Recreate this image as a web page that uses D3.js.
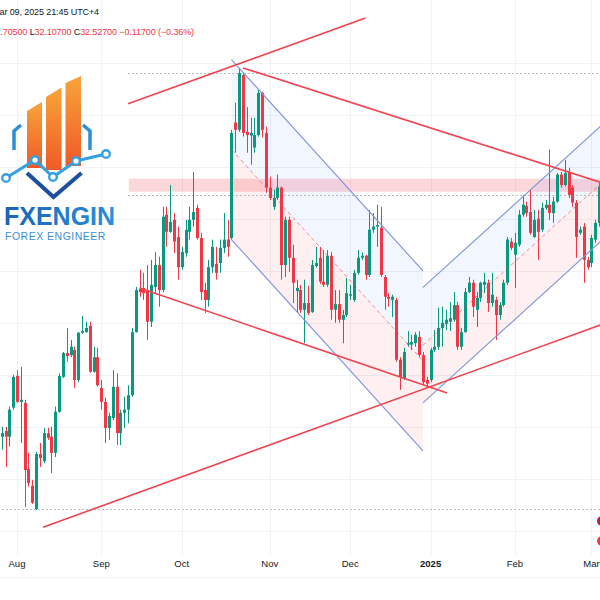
<!DOCTYPE html>
<head>
<meta charset="utf-8">
<style>
body{ margin:0; background:white; }
svg{ display:block; font-family:"Liberation Sans", Arial, sans-serif; }
.grid line{ stroke:#f0f2f6; stroke-width:1; shape-rendering:crispEdges; }
.axis text{ font-size:9.5px; fill:#131722; }
.level{ stroke:#b8bcc6; stroke-width:1; stroke-dasharray:2,2; shape-rendering:crispEdges; }
.hdr{ font-size:9px; letter-spacing:-0.1px; }
</style>
</head>
<body>
<svg width="600" height="600"></svg>
<script src="https://d3js.org/d3.v7.min.js"></script>
<script>

// daily candles, XAG/USD, late Jul 2024 .. 7 Mar 2025 (index = trading day)
var opens = [
  28.62,27.82,27.93,27.82,28.38,28.99,28.49,28.47,27.20,26.88,
  26.43,27.49,27.35,27.89,27.82,27.51,28.30,28.97,29.43,29.39,
  29.49,28.91,29.82,29.83,29.95,29.07,29.35,28.76,28.49,27.99,
  28.18,28.78,27.89,28.28,28.34,28.62,29.83,30.66,30.68,30.64,
  30.03,30.70,31.12,30.64,32.09,31.76,31.99,31.66,31.08,31.35,
  31.76,31.99,32.22,31.64,30.64,30.45,31.08,31.14,31.16,31.45,
  31.61,31.64,33.86,33.72,34.77,33.68,33.61,33.38,33.62,34.43,
  33.66,32.61,32.24,32.41,32.61,31.12,31.99,31.26,30.62,30.64,
  30.26,30.39,30.22,31.10,31.26,30.80,30.74,31.30,30.26,30.37,
  30.07,30.16,30.53,30.45,30.97,31.26,31.30,30.93,31.80,31.86,
  31.84,30.89,30.51,30.45,30.45,29.30,28.95,29.59,29.59,29.62,
  29.74,29.39,28.91,28.91,29.49,29.55,29.91,29.99,30.03,30.07,
  30.35,29.55,29.83,30.60,30.78,30.26,30.49,30.74,30.78,30.39,
  30.45,30.16,30.35,30.78,31.57,31.32,31.51,32.09,32.26,32.14,
  31.66,32.01,31.80,32.22,32.28,32.12,32.34,32.86,32.66,32.91,
  32.61,32.32,31.74,31.86,31.22,31.16,31.61,31.93,32.63,32.644
];
var highs = [
  28.85,28.01,28.01,28.40,29.01,29.10,29.16,28.53,27.51,26.99,
  27.53,27.70,27.99,27.99,28.01,28.40,29.04,29.45,29.91,29.68,
  29.55,29.83,30.14,30.03,30.03,29.55,29.53,28.91,28.57,28.28,
  29.10,29.04,28.34,28.59,28.81,29.91,30.70,31.03,30.97,31.12,
  31.22,31.37,31.28,32.24,32.24,32.66,32.12,31.86,31.47,31.99,
  32.24,32.91,32.28,31.74,30.78,31.22,31.61,31.47,31.61,32.12,
  31.99,33.72,34.24,34.91,34.81,34.16,33.95,33.95,34.49,34.45,
  33.78,32.82,32.57,32.86,32.63,32.05,32.05,31.51,30.84,30.74,
  30.84,30.72,31.22,31.47,31.47,31.41,31.41,31.37,30.64,30.64,
  30.26,30.87,30.74,31.03,31.41,31.36,31.32,32.18,32.12,32.28,
  32.24,30.93,30.58,30.55,30.49,29.35,29.53,29.85,29.78,29.83,
  29.85,29.45,28.97,29.53,29.87,30.30,30.32,30.26,30.41,30.60,
  30.41,29.91,30.68,30.89,30.84,30.60,30.80,30.97,30.84,30.97,
  30.51,30.41,30.84,31.66,31.64,31.74,32.18,32.47,32.34,32.57,
  32.18,32.18,32.32,32.37,33.34,32.43,32.89,32.91,33.14,32.99,
  32.66,32.37,31.86,31.93,31.28,31.70,31.99,32.70,32.76,32.705
];
var lows = [
  27.24,27.57,27.24,27.63,28.34,28.47,27.70,26.47,26.86,26.53,
  26.41,27.24,27.31,27.76,27.12,27.43,28.28,28.95,29.26,29.35,
  28.76,28.87,29.80,29.82,29.05,29.05,28.78,28.34,27.70,27.76,
  28.14,27.66,27.66,27.99,28.08,28.59,29.82,30.51,30.45,29.68,
  29.93,30.58,30.32,30.60,31.47,31.74,31.35,30.84,31.03,31.28,
  31.61,31.86,31.61,30.45,30.20,30.32,30.97,30.84,30.97,31.35,
  31.28,31.61,33.28,33.68,33.59,33.28,33.05,33.28,33.59,33.57,
  32.51,32.37,32.18,32.37,30.84,30.89,30.99,30.39,30.20,30.20,
  29.62,30.16,30.20,31.07,30.76,30.70,30.70,30.07,30.01,30.01,
  29.62,30.12,30.45,30.41,30.93,31.22,30.84,30.89,31.74,31.47,
  30.89,30.26,30.32,30.12,29.26,28.72,28.91,29.55,29.49,29.55,
  29.35,28.81,28.78,28.87,29.45,29.49,29.55,29.87,29.85,30.03,
  29.49,29.49,29.82,30.58,30.12,29.93,30.41,30.58,30.22,30.32,
  29.68,30.07,30.32,30.74,31.41,30.68,31.47,32.05,32.05,31.70,
  31.64,31.22,31.76,32.18,31.99,31.93,32.32,32.61,32.63,32.41,
  32.24,31.26,31.70,30.78,31.03,31.08,31.55,31.86,32.28,32.107
];
var closes = [
  27.95,27.89,27.82,28.34,28.97,28.49,28.53,27.18,26.93,26.55,
  27.49,27.41,27.89,27.80,27.51,28.30,28.99,29.43,29.37,29.55,
  28.91,29.82,29.85,29.91,29.07,29.35,28.81,28.49,27.99,28.22,
  28.78,27.89,28.28,28.34,28.62,29.83,30.64,30.60,30.58,30.03,
  30.74,31.12,30.64,32.05,31.76,31.95,31.57,31.08,31.37,31.80,
  31.99,32.14,31.64,30.60,30.45,31.08,31.47,30.97,31.45,31.61,
  31.47,33.66,33.72,34.81,33.66,33.62,33.66,33.62,34.43,33.72,
  32.61,32.41,32.41,32.61,31.12,31.99,31.26,30.78,30.68,30.26,
  30.39,30.20,31.12,31.16,30.80,30.74,31.30,30.26,30.37,30.07,
  30.16,30.58,30.56,30.97,31.26,31.30,30.93,31.80,31.86,31.89,
  30.93,30.51,30.47,30.51,29.30,28.97,29.45,29.62,29.64,29.78,
  29.39,28.87,28.84,29.49,29.55,29.91,30.01,30.07,30.10,30.35,
  29.55,29.83,30.60,30.78,30.32,30.49,30.78,30.80,30.39,30.55,
  30.16,30.35,30.78,31.61,31.45,31.55,32.09,32.28,32.12,31.74,
  31.99,31.76,32.22,32.28,32.12,32.34,32.86,32.66,32.89,32.47,
  32.32,31.66,31.80,31.22,31.08,31.64,31.93,32.63,32.47,32.527
];

var monthLabels = ["Aug","Sep","Oct","Nov","Dec","2025","Feb","Mar"];
var monthIdx    = [5, 27, 48, 71, 92, 113, 135, 155];
var priceGrid   = [26, 27, 28, 29, 30, 31, 32, 33, 34, 35];

// drawings: [idx0, price0, idx1, price1]
var trendLines = [
  [34, 34.22, 96, 35.87],
  [64, 34.91, 160, 32.65],
  [37, 30.68, 117.3, 28.66],
  [11.8, 26.08, 160, 30.04]
];
// regression trends: start/end index, centre prices, deviation
var regStart = [61, 111];
var regEnd   = [111, 159];
var regC0    = [33.34, 29.58];
var regC1    = [29.28, 32.79];
var regDev   = [1.73, 1.11];

var zoneStart = 34.2, zoneTop = 32.78, zoneBottom = 32.53;
var levelPrices = [34.81, 32.47, 26.43];
var levelStart  = [34, 34, 0];

var header1 = "Mar 09, 2025 21:45 UTC+4";
var ohlcLabels = ["O", "H", "L", "C"];
var ohlcValues = ["32.64400", "32.70500", "32.10700", "32.52700"];
var change = "\u22120.11700 (\u22120.36%)";

var svg = d3.select("svg");
var paneBottom = 555;

var x = d3.scaleLinear().domain([0, 159]).range([-2.15, 606.8]);
var y = d3.scaleLinear().domain([26.45, 34.87]).range([508, 70]);

var defs = svg.append("defs");
defs.append("clipPath").attr("id", "pane")
  .append("rect").attr("x", 0).attr("y", 0).attr("width", 600).attr("height", paneBottom);

var barGrad = defs.append("linearGradient").attr("id", "barGrad")
  .attr("x1", 0).attr("y1", 0).attr("x2", 0).attr("y2", 1);
barGrad.append("stop").attr("offset", "0%").attr("stop-color", "#f8a43a");
barGrad.append("stop").attr("offset", "100%").attr("stop-color", "#ef5a28");

var txtGrad = defs.append("linearGradient").attr("id", "txtGrad")
  .attr("x1", 0).attr("y1", 0).attr("x2", 1).attr("y2", 0);
txtGrad.append("stop").attr("offset", "0%").attr("stop-color", "#1a62b4");
txtGrad.append("stop").attr("offset", "100%").attr("stop-color", "#2b8fdc");

// grid
var grid = svg.append("g").attr("class", "grid");
grid.selectAll(".v").data(monthIdx).enter().append("line")
  .attr("x1", d => Math.round(x(d)) + 0.5).attr("x2", d => Math.round(x(d)) + 0.5)
  .attr("y1", 0).attr("y2", paneBottom);
grid.selectAll(".h").data(priceGrid).enter().append("line")
  .attr("x1", 0).attr("x2", 600)
  .attr("y1", d => Math.round(y(d)) + 0.5).attr("y2", d => Math.round(y(d)) + 0.5);

var pane = svg.append("g").attr("clip-path", "url(#pane)");

// supply zone
pane.append("rect")
  .attr("x", x(zoneStart)).attr("y", y(zoneTop))
  .attr("width", 620 - x(zoneStart)).attr("height", y(zoneBottom) - y(zoneTop))
  .attr("fill", "rgba(242,54,69,0.2)");

// regression fills
regStart.forEach(function(s, k) {
  var e = regEnd[k], c0 = regC0[k], c1 = regC1[k], dv = regDev[k];
  pane.append("path")
    .attr("d", d3.line()([[x(s), y(c0 + dv)], [x(e), y(c1 + dv)], [x(e), y(c1)], [x(s), y(c0)]]))
    .attr("fill", "rgba(41,98,255,0.06)");
  pane.append("path")
    .attr("d", d3.line()([[x(s), y(c0)], [x(e), y(c1)], [x(e), y(c1 - dv)], [x(s), y(c0 - dv)]]))
    .attr("fill", "rgba(242,54,69,0.08)");
});

// dotted price levels
pane.selectAll(".level").data(levelPrices).enter().append("line")
  .attr("class", "level")
  .attr("x1", (d, i) => x(levelStart[i])).attr("x2", 620)
  .attr("y1", d => Math.round(y(d)) + 0.5).attr("y2", d => Math.round(y(d)) + 0.5);

// candles
var up = "#089981", down = "#f23645";
var idx = d3.range(opens.length);
var candle = pane.selectAll(".candle").data(idx).enter().append("g");
candle.append("line")
  .attr("x1", i => Math.round(x(i)) + 0.5).attr("x2", i => Math.round(x(i)) + 0.5)
  .attr("y1", i => y(highs[i])).attr("y2", i => y(lows[i]))
  .attr("stroke", i => closes[i] >= opens[i] ? up : down)
  .attr("stroke-width", 1);
candle.append("rect")
  .attr("x", i => Math.round(x(i)) - 1)
  .attr("width", 3)
  .attr("y", i => y(Math.max(opens[i], closes[i])))
  .attr("height", i => Math.max(1, Math.abs(y(opens[i]) - y(closes[i]))))
  .attr("fill", i => closes[i] >= opens[i] ? up : down);

// regression lines
regStart.forEach(function(s, k) {
  var e = regEnd[k], c0 = regC0[k], c1 = regC1[k], dv = regDev[k];
  [dv, -dv].forEach(function(o) {
    pane.append("line")
      .attr("x1", x(s)).attr("y1", y(c0 + o)).attr("x2", x(e)).attr("y2", y(c1 + o))
      .attr("stroke", "#7d93dc").attr("stroke-width", 1.1);
  });
  pane.append("line")
    .attr("x1", x(s)).attr("y1", y(c0)).attr("x2", x(e)).attr("y2", y(c1))
    .attr("stroke", "rgba(242,54,69,0.55)").attr("stroke-width", 1)
    .attr("stroke-dasharray", "4,3");
});

// trend lines
pane.selectAll(".trend").data(trendLines).enter().append("line")
  .attr("x1", d => x(d[0])).attr("y1", d => y(d[1]))
  .attr("x2", d => x(d[2])).attr("y2", d => y(d[3]))
  .attr("stroke", "#f0434f").attr("stroke-width", 1.6);

// event markers at right edge
pane.append("circle").attr("cx", 602).attr("cy", 521).attr("r", 5).attr("fill", "#c2185b");
pane.append("circle").attr("cx", 602).attr("cy", 541).attr("r", 5).attr("fill", "#f23645");

// time axis
var axis = svg.append("g").attr("class", "axis");
axis.selectAll("text").data(monthLabels).enter().append("text")
  .attr("x", (d, i) => x(monthIdx[i])).attr("y", 567)
  .attr("text-anchor", "middle")
  .style("font-weight", d => d === "2025" ? "bold" : "normal")
  .text(d => d);
axis.append("line").attr("x1", 0).attr("x2", 600).attr("y1", 577.5).attr("y2", 577.5)
  .attr("stroke", "#f0f2f6");

// legend header (left part is cut off like the screenshot)
svg.append("text").attr("class", "hdr").attr("x", 99).attr("y", 15).attr("text-anchor", "end")
  .attr("fill", "#131722").text(header1);
var h2 = svg.append("text").attr("class", "hdr").attr("x", 194).attr("y", 35)
  .attr("text-anchor", "end");
ohlcLabels.forEach(function(l, k) {
  h2.append("tspan").attr("fill", "#131722").text((k ? " " : "") + l);
  h2.append("tspan").attr("fill", "#f23645").text(ohlcValues[k]);
});
h2.append("tspan").attr("fill", "#f23645").text(" " + change);

// FXENGIN watermark logo
var logo = svg.append("g");
logo.append("path").attr("d", "M27,111L42,102L42,168L27,168Z").attr("fill", "url(#barGrad)");
logo.append("path").attr("d", "M46,97L61.5,87.5L61.5,170L46,170Z").attr("fill", "url(#barGrad)");
logo.append("path").attr("d", "M65.5,83L81,76L81,166L65.5,166Z").attr("fill", "url(#barGrad)");
logo.append("path").attr("d", "M21,125L14,131L14,150").attr("fill", "none")
  .attr("stroke", "#2a8fd8").attr("stroke-width", 3.5);
logo.append("path").attr("d", "M83,125L90,131L90,150").attr("fill", "none")
  .attr("stroke", "#2a8fd8").attr("stroke-width", 3.5);
logo.append("path").attr("d", "M27,173L53.5,197L81.5,173").attr("fill", "none")
  .attr("stroke", "#1d4f9e").attr("stroke-width", 4);
var net = [[6,178],[35,160],[53,177],[76,161],[106,154]];
logo.append("path").attr("d", d3.line()(net)).attr("fill", "none")
  .attr("stroke", "#35a0e2").attr("stroke-width", 3);
logo.selectAll(".node").data(net).enter().append("circle")
  .attr("cx", d => d[0]).attr("cy", d => d[1]).attr("r", 3.8)
  .attr("fill", "white").attr("stroke", "#35a0e2").attr("stroke-width", 2.4);
logo.append("text").attr("x", 4).attr("y", 225)
  .style("font-size", "25px").style("font-weight", "bold")
  .attr("fill", "url(#txtGrad)").text("FXENGIN");
logo.append("text").attr("x", 5).attr("y", 240)
  .style("font-size", "10.5px").style("letter-spacing", "0.5px")
  .attr("fill", "#3a8fd3").text("FOREX ENGINEER");

</script>
</body>
